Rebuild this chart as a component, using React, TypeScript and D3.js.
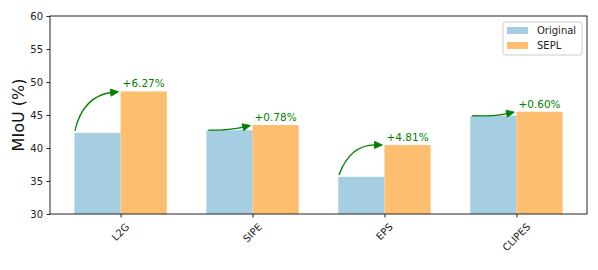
import React, { useEffect, useRef } from 'react';
import * as d3 from 'd3';

const categories = ['L2G', 'SIPE', 'EPS', 'CLIPES'];
const originalValues = [42.3, 42.7, 35.64, 44.9];
const seplValues = [48.57, 43.48, 40.45, 45.5];
const gainLabels = ['+6.27%', '+0.78%', '+4.81%', '+0.60%'];
const yTicks = [30, 35, 40, 45, 50, 55, 60];

const App = () => {
  const ref = useRef<HTMLDivElement>(null);

  useEffect(() => {
    document.body.style.margin = '0';
    const W = 598;
    const H = 270;
    const plot = { left: 50, right: 587, top: 16, bottom: 214 };
    const font = 'DejaVu Sans, sans-serif';
    const green = '#008000';

    d3.select(ref.current).select('svg').remove();
    const svg = d3
      .select(ref.current)
      .append('svg')
      .attr('width', W)
      .attr('height', H)
      .style('display', 'block')
      .style('font-family', font);

    const barW = 0.35;
    const x = d3.scaleLinear().domain([-0.535, 3.535]).range([plot.left, plot.right]);
    const y = d3.scaleLinear().domain([30, 60]).range([plot.bottom, plot.top]);
    const bw = x(barW) - x(0);

    // bars
    svg.selectAll('.orig')
      .data(originalValues)
      .enter()
      .append('rect')
      .attr('x', (_d, i) => x(i - barW))
      .attr('y', d => y(d))
      .attr('width', bw)
      .attr('height', d => plot.bottom - y(d))
      .attr('fill', '#a6cee3');

    svg.selectAll('.sepl')
      .data(seplValues)
      .enter()
      .append('rect')
      .attr('x', (_d, i) => x(i))
      .attr('y', d => y(d))
      .attr('width', bw)
      .attr('height', d => plot.bottom - y(d))
      .attr('fill', '#fdbf6f');

    // curved arrows (like matplotlib arc3)
    originalValues.forEach((o, i) => {
      const n = seplValues[i];
      const x1 = x(i - barW), y1 = y(o);
      const x2 = x(i), y2 = y(n);
      const rad = n - o > 2 ? -0.35 : 0.06;
      const mx = (x1 + x2) / 2, my = (y1 + y2) / 2;
      const cx = mx - rad * (y2 - y1);
      const cy = my + rad * (x2 - x1);
      // shrink both ends by 2px along the tangent
      const shrink = (px: number, py: number, qx: number, qy: number, s: number) => {
        const l = Math.hypot(qx - px, qy - py);
        return [px + ((qx - px) / l) * s, py + ((qy - py) / l) * s];
      };
      const [sx, sy] = shrink(x1, y1, cx, cy, 2);
      const [ex, ey] = shrink(x2, y2, cx, cy, 2);
      const headLen = 8;
      const headHalf = 3.6;
      const dl = Math.hypot(ex - cx, ey - cy);
      const ux = (ex - cx) / dl, uy = (ey - cy) / dl;
      const bx = ex - ux * headLen, by = ey - uy * headLen;
      svg.append('path')
        .attr('d', `M${sx},${sy} Q${cx},${cy} ${bx + ux},${by + uy}`)
        .attr('fill', 'none')
        .attr('stroke', green)
        .attr('stroke-width', 1.3);
      svg.append('path')
        .attr('d', `M${ex},${ey} L${bx - uy * headHalf},${by + ux * headHalf} L${bx + uy * headHalf},${by - ux * headHalf} Z`)
        .attr('fill', green)
        .attr('stroke', green)
        .attr('stroke-width', 0.8)
        .attr('stroke-linejoin', 'miter');
    });

    // gain labels
    svg.selectAll('.gain')
      .data(seplValues)
      .enter()
      .append('text')
      .attr('x', (_d, i) => x(i + barW / 2))
      .attr('y', d => y(d) - 4)
      .attr('text-anchor', 'middle')
      .attr('font-size', 10.5)
      .attr('fill', green)
      .text((_d, i) => gainLabels[i]);

    // frame
    svg.append('rect')
      .attr('x', plot.left)
      .attr('y', plot.top)
      .attr('width', plot.right - plot.left)
      .attr('height', plot.bottom - plot.top)
      .attr('fill', 'none')
      .attr('stroke', '#222')
      .attr('stroke-width', 1);

    // y axis
    const yAxis = svg.append('g')
      .attr('transform', `translate(${plot.left},0)`)
      .call(d3.axisLeft(y).tickValues(yTicks).tickSize(3.5).tickPadding(3.5));
    yAxis.select('.domain').remove();
    yAxis.selectAll('line').attr('stroke', '#222');
    yAxis.selectAll('text')
      .attr('font-size', 10)
      .attr('font-family', font)
      .attr('fill', '#222');

    // x axis
    const xAxis = svg.append('g')
      .attr('transform', `translate(0,${plot.bottom})`)
      .call(d3.axisBottom(x).tickValues(d3.range(categories.length)).tickSize(3.5).tickFormat(() => ''));
    xAxis.select('.domain').remove();
    xAxis.selectAll('line').attr('stroke', '#222');

    categories.forEach((c, i) => {
      const t = svg.append('text')
        .attr('font-size', 10)
        .attr('fill', '#222')
        .attr('text-anchor', 'middle')
        .attr('dominant-baseline', 'central')
        .text(c);
      const w = (t.node() as SVGTextElement).getComputedTextLength();
      const h = 11.6;
      const top = plot.bottom + 7;
      const cyl = top + (w + h) / (2 * Math.SQRT2);
      t.attr('transform', `translate(${x(i)},${cyl}) rotate(-45)`);
    });

    // y label
    svg.append('text')
      .attr('transform', `translate(18,${(plot.top + plot.bottom) / 2}) rotate(-90)`)
      .attr('text-anchor', 'middle')
      .attr('dominant-baseline', 'central')
      .attr('font-size', 16)
      .attr('fill', '#111')
      .text('MIoU (%)');

    // legend
    const lg = svg.append('g');
    lg.append('rect')
      .attr('x', 503)
      .attr('y', 22)
      .attr('width', 79)
      .attr('height', 33)
      .attr('rx', 2.5)
      .attr('fill', 'white')
      .attr('fill-opacity', 0.8)
      .attr('stroke', '#cccccc')
      .attr('stroke-width', 1);
    const legendItems = [
      { label: 'Original', color: '#a6cee3' },
      { label: 'SEPL', color: '#fdbf6f' },
    ];
    legendItems.forEach((it, i) => {
      const cy = 30.5 + i * 15;
      lg.append('rect')
        .attr('x', 507)
        .attr('y', cy - 3.5)
        .attr('width', 21)
        .attr('height', 7)
        .attr('fill', it.color);
      lg.append('text')
        .attr('x', 537)
        .attr('y', cy)
        .attr('dominant-baseline', 'central')
        .attr('font-size', 10)
        .attr('fill', '#222')
        .text(it.label);
    });
  }, []);

  return <div ref={ref}></div>;
};

export default App;
